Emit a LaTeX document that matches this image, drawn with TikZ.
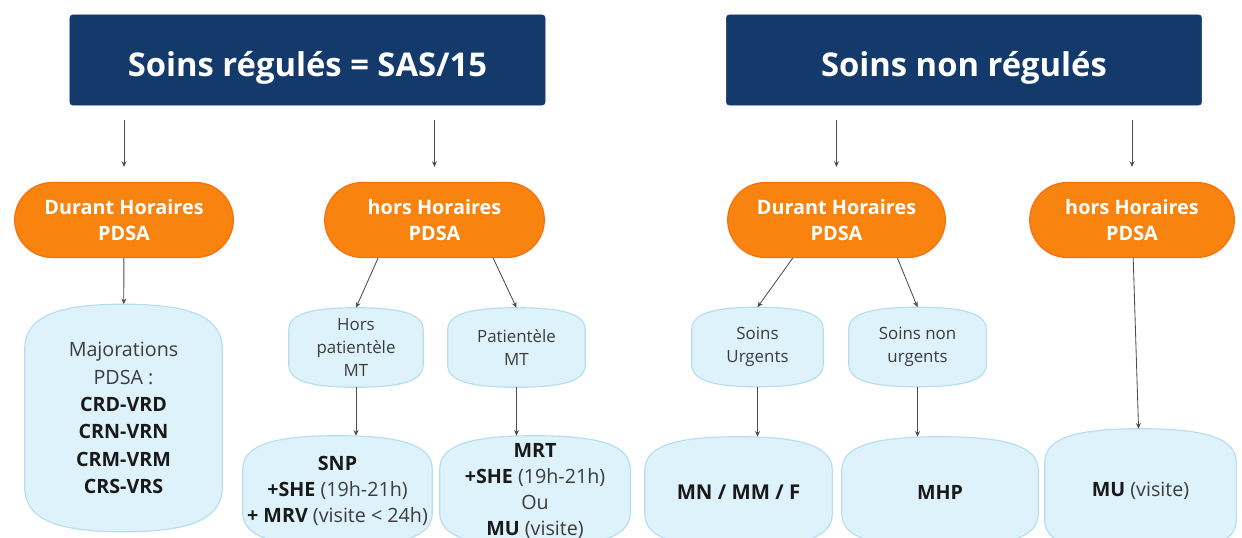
\documentclass[tikz,border=0pt]{standalone}
\usepackage{fontspec}
\setmainfont{Open Sans}
\usepackage{tikz}
\usetikzlibrary{shapes.misc, arrows.meta, backgrounds, calc}

\definecolor{navy}{HTML}{133A6B}
\definecolor{orangeb}{HTML}{F8830E}
\definecolor{skyfill}{HTML}{DDF2FB}
\definecolor{skyline}{HTML}{B6DEEF}
\definecolor{txtgray}{HTML}{3C3C3C}

\newcommand{\kw}[1]{\textbf{\color{black!90}#1}}
% contour bombe des cases bleues
\newcommand{\barrel}[2]{%
  \path[barrelbg] (#1.north)
    .. controls ($(#1.north)!0.7!(#1.north east)$) and ([yshift=-0.3*#2]#1.north east) .. ([yshift=-#2]#1.north east)
    -- ([yshift=#2]#1.south east)
    .. controls ([yshift=0.3*#2]#1.south east) and ($(#1.south)!0.7!(#1.south east)$) .. (#1.south)
    .. controls ($(#1.south)!0.7!(#1.south west)$) and ([yshift=0.3*#2]#1.south west) .. ([yshift=#2]#1.south west)
    -- ([yshift=-#2]#1.north west)
    .. controls ([yshift=-0.3*#2]#1.north west) and ($(#1.north)!0.7!(#1.north west)$) .. cycle;}

\tikzset{barrelbg/.style={fill=skyfill, draw=skyline, line width=0.8pt}}

\begin{document}
\begin{tikzpicture}[x=0.025cm, y=-0.025cm,
    title/.style={fill=navy, draw=navy, rounded corners=2pt, text=white, minimum width=11.875cm, minimum height=2.25cm,
        text height=29pt, text depth=5.5pt, font=\bfseries\fontsize{23.3}{28}\selectfont},
    pill/.style={rounded rectangle, fill=orangeb, draw=orangeb!85!red, line width=0.8pt, text=white, align=center, minimum height=1.875cm, font=\bfseries\fontsize{14.1}{19}\selectfont},
    sky/.style={align=center, text=txtgray, inner sep=0pt},
    small/.style={sky, minimum width=3.35cm, minimum height=1.975cm, font=\fontsize{12}{16.3}\selectfont},
    big/.style={sky, minimum width=4.75cm, minimum height=2.75cm, font=\fontsize{14}{18.5}\selectfont},
    arr/.style={draw=black!70, line width=0.6pt, -{Stealth[length=4pt,width=3.5pt]}},
    gap/.style={shorten <=0.375cm, shorten >=0.375cm}
]
    \useasboundingbox (0,0) rectangle (1242,538);

    % titres
    \node[title] (sas) at (307.5,60) {Soins régulés = SAS/15};
    \node[title] (nonreg) at (964,60) {Soins non régulés};

    % horaires
    \node[pill, minimum width=5.7cm] (durant1) at (124,220) {Durant Horaires\\PDSA};
    \node[pill, minimum width=5.725cm] (hors1) at (434.5,220) {hors Horaires\\PDSA};
    \node[pill, minimum width=5.675cm] (durant2) at (836.5,220) {Durant Horaires\\PDSA};
    \node[pill, minimum width=5.35cm] (hors2) at (1132,220) {hors Horaires\\PDSA};

    % patientele / urgence
    \node[sky, minimum width=4.925cm, minimum height=5.675cm, font=\fontsize{14}{19.4}\selectfont] (major) at (123.5,418)
        {Majorations\\PDSA :\\\kw{CRD-VRD}\\\kw{CRN-VRN}\\\kw{CRM-VRM}\\\kw{CRS-VRS}};
    \node[small] (horspat) at (356,347.5) {Hors\\patientèle\\MT};
    \node[small, minimum width=3.425cm] (patmt) at (516.5,347.5) {Patientèle\\MT};
    \node[small, minimum width=3.275cm] (urg) at (757.5,347) {Soins\\Urgents};
    \node[small, minimum width=3.425cm] (nonurg) at (917.5,347) {Soins non\\urgents};

    % cotations
    \node[big, minimum width=4.725cm] (snp) at (337.5,491) {\kw{SNP}\\\kw{+SHE} (19h-21h)\\\kw{+ MRV} (visite < 24h)};
    \node[big] (mrt) at (535,491) {\kw{MRT}\\\kw{+SHE} (19h-21h)\\Ou\\\kw{MU} (visite)};
    \node[big, minimum width=4.675cm, font=\fontsize{14.5}{18}\selectfont] (mnmmf) at (738.5,492) {\kw{MN / MM / F}};
    \node[big, minimum width=4.9cm] (mhp) at (940,492) {\kw{MHP}};
    \node[big, minimum width=4.775cm, minimum height=3.1cm] (mu) at (1140.5,491) {\kw{MU} (visite)};

    \begin{scope}[on background layer]
        \foreach \n/\d in {major/32pt, horspat/16pt, patmt/16pt, urg/16pt, nonurg/16pt, snp/24pt, mrt/24pt, mnmmf/24pt, mhp/24pt, mu/24pt}
            \barrel{\n}{\d};
    \end{scope}

    \draw[arr, gap] (sas.south -| durant1.north) -- (durant1.north);
    \draw[arr, gap] (sas.south -| hors1.north) -- (hors1.north);
    \draw[arr, gap] (nonreg.south -| durant2.north) -- (durant2.north);
    \draw[arr, gap] (nonreg.south -| hors2.north) -- (hors2.north);

    \draw[arr] (durant1) -- (major);
    \draw[arr] (hors1.214) -- (horspat.north);
    \draw[arr] (hors1.327) -- (patmt.north);
    \draw[arr] (durant2.221) -- (urg.north);
    \draw[arr] (durant2.328) -- (nonurg.north);
    \draw[arr] (hors2) -- (mu);

    \draw[arr] (horspat.south) -- (horspat.south |- snp.north);
    \draw[arr] (patmt.south) -- (patmt.south |- mrt.north);
    \draw[arr] (urg.south) -- (urg.south |- mnmmf.north);
    \draw[arr] (nonurg.south) -- (nonurg.south |- mhp.north);
\end{tikzpicture}
\end{document}
